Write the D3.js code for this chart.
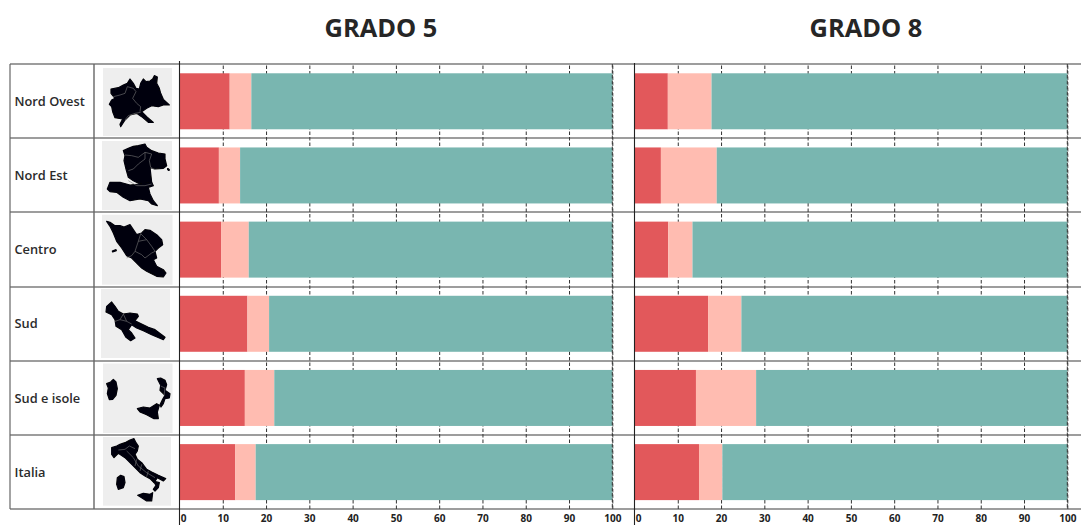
<!DOCTYPE html>
<html>
<head>
<meta charset="utf-8">
<script src="https://cdn.jsdelivr.net/npm/d3@7"></script>
<style>
html,body{margin:0;padding:0;background:#fff;}
svg{display:block;}
text{font-family:"Open Sans",sans-serif;}
</style>
</head>
<body>
<svg id="chart" width="1081" height="525"></svg>
<script>
const regions = ["Nord Ovest","Nord Est","Centro","Sud","Sud e isole","Italia"];
const panels = ["GRADO 5","GRADO 8"];
const tickValues = [0,10,20,30,40,50,60,70,80,90,100];
const segments = ["low","mid","high"];
const segmentColors = ["#e2585b","#ffbcb1","#79b6b0"];

const grado5Low  = [11.6, 9.1, 9.6, 15.7, 15.1, 12.9];
const grado5Mid  = [5.0, 4.9, 6.4, 5.0, 6.8, 4.7];
const grado5High = [83.4, 86.0, 84.0, 79.3, 78.1, 82.4];

const grado8Low  = [7.7, 6.1, 7.8, 17.0, 14.2, 14.9];
const grado8Mid  = [10.1, 12.9, 5.6, 7.7, 13.9, 5.4];
const grado8High = [82.2, 81.0, 86.6, 75.3, 71.9, 79.7];

/* Map pictograms: outlines traced in a 225x216 icon space */
const shapeNordOvest = [[[33,72],[55,68],[70,60],[82,55],[90,42],[100,55],[108,70],[118,72],[122,55],[130,42],[138,50],[150,48],[158,42],[163,32],[172,36],[170,55],[178,70],[182,85],[190,103],[208,120],[190,120],[175,125],[155,122],[140,130],[125,140],[140,155],[160,172],[145,172],[125,155],[110,145],[90,150],[75,165],[62,185],[60,178],[68,162],[45,158],[38,140],[35,125],[28,118],[35,105],[45,100],[33,85]]];
const linesNordOvest = [[[40,95],[60,90],[75,85],[82,65],[100,70],[108,80],[98,100],[110,115],[122,125],[120,140]],[[122,142],[105,145],[85,152],[75,165]]];
const shapeNordEst = [[[70,35],[85,28],[100,22],[115,20],[135,15],[140,25],[155,35],[175,42],[195,45],[195,60],[200,80],[190,88],[165,90],[150,85],[155,130],[120,135],[100,125],[85,115],[78,90],[72,65],[75,50]],[[30,130],[60,130],[90,138],[120,135],[155,130],[160,140],[145,145],[150,165],[160,185],[172,200],[155,195],[145,185],[120,180],[90,185],[70,175],[50,160],[30,158],[22,150]],[[203,88],[208,92],[207,95],[202,91]]];
const linesNordEst = [[[75,48],[95,50],[115,55],[135,40],[155,45],[148,65],[152,85],[165,92]],[[85,95],[100,90],[115,75],[135,60],[135,40]],[[85,125],[110,140],[135,140],[155,135]]];
const shapeCentro = [[[20,25],[30,28],[45,38],[60,38],[72,42],[90,35],[100,50],[110,65],[125,60],[135,50],[150,52],[170,65],[185,80],[188,95],[175,105],[165,115],[170,135],[160,140],[170,160],[190,170],[198,180],[190,192],[170,190],[140,175],[125,165],[110,150],[95,135],[80,128],[65,105],[50,85],[40,60],[30,40]],[[37,114],[48,110],[49,113],[38,117]]];
const linesCentro = [[[122,62],[115,85],[105,115],[95,128],[80,135]],[[115,85],[140,80],[155,100],[165,115]],[[105,115],[125,125],[135,135],[155,120],[165,115]],[[122,62],[140,80]]];
const shapeSud = [[[20,55],[35,42],[45,55],[55,70],[70,78],[90,75],[112,78],[115,85],[105,98],[125,108],[145,118],[165,125],[185,140],[195,148],[190,155],[178,150],[155,140],[130,128],[110,120],[95,110],[85,125],[95,135],[105,150],[92,158],[78,148],[65,125],[48,115],[45,95],[35,80],[18,72]]];
const linesSud = [[[45,100],[60,95],[70,78]],[[60,95],[80,100]],[[70,78],[80,100],[95,108]]];
const shapeSudIsole = [[[20,65],[32,60],[40,52],[48,60],[52,80],[48,100],[38,112],[28,113],[22,95],[25,78]],[[112,140],[130,135],[150,138],[170,125],[178,130],[172,150],[175,170],[162,170],[140,158],[120,150]],[[172,50],[182,48],[195,55],[200,68],[195,85],[210,95],[208,108],[195,110],[190,125],[183,135],[180,128],[188,112],[195,100],[180,85],[182,70]]];
const linesSudIsole = [[[182,72],[195,78],[192,100]]];
const shapeItalia = [[[35,35],[50,30],[60,25],[75,20],[90,12],[102,8],[108,20],[115,30],[112,45],[105,55],[112,70],[125,80],[140,100],[155,108],[175,118],[197,128],[190,135],[172,125],[162,140],[150,128],[135,120],[120,110],[105,95],[90,80],[75,65],[55,52],[42,65],[35,55]],[[160,135],[178,140],[175,155],[165,165],[160,160],[168,148]],[[52,125],[62,118],[72,122],[75,140],[70,155],[55,160],[50,145]],[[113,178],[130,172],[150,175],[158,170],[155,195],[140,195],[125,185]]];
const linesItalia = [[[55,42],[75,40],[88,30],[105,38]],[[80,45],[100,65],[115,90],[140,110],[165,125]],[[110,70],[105,90]],[[125,85],[120,105]],[[145,105],[140,122]]];

const mapShapes = [shapeNordOvest,shapeNordEst,shapeCentro,shapeSud,shapeSudIsole,shapeItalia];
const mapLines = [linesNordOvest,linesNordEst,linesCentro,linesSud,linesSudIsole,linesItalia];
const mapCards = [[103,68,172,136],[102,141,172,210],[102,214.7,172.5,284.7],[101,289,170,358],[103,363.5,172.5,433],[103,437,171,505.7]];
const mapOrigins = [65,139,213,288,362,436];

const svg = d3.select("#chart");
const defs = svg.append("defs");
defs.append("filter").attr("id","soft").attr("x","-10%").attr("y","-10%").attr("width","120%").attr("height","120%")
  .append("feGaussianBlur").attr("stdDeviation",0.45);

const rowScale = d3.scaleBand().domain(regions).range([64,509]);
const barH = 56;
const barOffset = (rowScale.bandwidth()-barH)/2 + 0.2;

const panelDefs = [
  {title:panels[0], x0:179.5, x1:612.3, cx:381, low:grado5Low, mid:grado5Mid, high:grado5High},
  {title:panels[1], x0:634.5, x1:1067.3, cx:866, low:grado8Low, mid:grado8Mid, high:grado8High}
];
const stack = d3.stack().keys(segments);
const color = d3.scaleOrdinal(segments, segmentColors);

panelDefs.forEach(p=>{
  const x = d3.scaleLinear().domain([0,100]).range([p.x0,p.x1]);
  const rows = regions.map((r,i)=>({region:r, low:p.low[i], mid:p.mid[i], high:p.high[i]}));
  const g = svg.append("g");

  const axis = d3.axisBottom(x).tickValues(tickValues).tickSize(-445).tickSizeOuter(0).tickPadding(5);
  const ax = g.append("g").attr("transform","translate(0,509)").call(axis);
  ax.select(".domain").remove();
  ax.selectAll(".tick line").attr("stroke","#333").attr("stroke-width",1).attr("stroke-dasharray","3.5,2");
  ax.selectAll(".tick").filter(d=>d===0).select("line").remove();
  ax.selectAll(".tick text").attr("font-size",10).attr("font-weight",700).attr("fill","#222")
    .attr("dx",d=>d===0?3.5:0).attr("y",5.5);

  const layers = g.selectAll("g.layer").data(stack(rows)).join("g").attr("class","layer").attr("fill",d=>color(d.key));
  layers.selectAll("rect").data(d=>d).join("rect")
    .attr("x",d=>x(d[0])).attr("width",d=>x(d[1])-x(d[0]))
    .attr("y",d=>rowScale(d.data.region)+barOffset).attr("height",barH);

  g.append("line").attr("x1",x(100)).attr("x2",x(100)).attr("y1",64).attr("y2",509)
    .attr("stroke","#333").attr("stroke-dasharray","3.5,2");

  g.append("text").attr("x",p.cx).attr("y",36.7).attr("text-anchor","middle")
    .attr("font-size",25.4).attr("font-weight",700).attr("fill","#262626").text(p.title);
});

// table frame
const rowEdges = regions.map(r=>rowScale(r)).concat([509]);
svg.append("g").selectAll("line").data(rowEdges).join("line")
  .attr("x1",10).attr("x2",1081).attr("y1",d=>Math.round(d)).attr("y2",d=>Math.round(d))
  .attr("stroke","#3d3d3d").attr("stroke-width",1.2);
svg.append("line").attr("x1",10).attr("x2",10).attr("y1",64).attr("y2",509).attr("stroke","#666").attr("stroke-width",1.2);
svg.append("line").attr("x1",94).attr("x2",94).attr("y1",64).attr("y2",509).attr("stroke","#666").attr("stroke-width",1.4);
panelDefs.forEach((p,i)=>{
  svg.append("line").attr("x1",p.x0).attr("x2",p.x0).attr("y1",i?63:61).attr("y2",525).attr("stroke","#222").attr("stroke-width",1.1);
});

// row labels
svg.append("g").selectAll("text").data(regions).join("text")
  .attr("x",14.5).attr("y",r=>rowScale(r)+rowScale.bandwidth()/2+4.8)
  .attr("font-size",12.8).attr("font-weight",600).attr("fill","#2b2b2b").text(r=>r);

// map pictograms
const iconScale = d3.scaleLinear().domain([0,225]).range([0,75]);
const shapeGen = d3.line().x(d=>iconScale(d[0])).y(d=>iconScale(d[1])).curve(d3.curveLinearClosed);
const lineGen = d3.line().x(d=>iconScale(d[0])).y(d=>iconScale(d[1])).curve(d3.curveLinear);
regions.forEach((r,i)=>{
  const c = mapCards[i];
  svg.append("rect").attr("x",c[0]).attr("y",c[1]).attr("width",c[2]-c[0]).attr("height",c[3]-c[1]).attr("fill","#eeeeee");
  const g = svg.append("g").attr("transform",`translate(100,${mapOrigins[i]})`);
  g.selectAll("path.s").data(mapShapes[i]).join("path").attr("class","s")
    .attr("d",shapeGen).attr("fill","#050508").attr("stroke","#050508").attr("stroke-width",1.2)
    .attr("stroke-linejoin","round").attr("filter","url(#soft)");
  g.selectAll("path.l").data(mapLines[i]).join("path").attr("class","l")
    .attr("d",lineGen).attr("fill","none").attr("stroke","#777").attr("stroke-width",0.6);
});
</script>
</body>
</html>
